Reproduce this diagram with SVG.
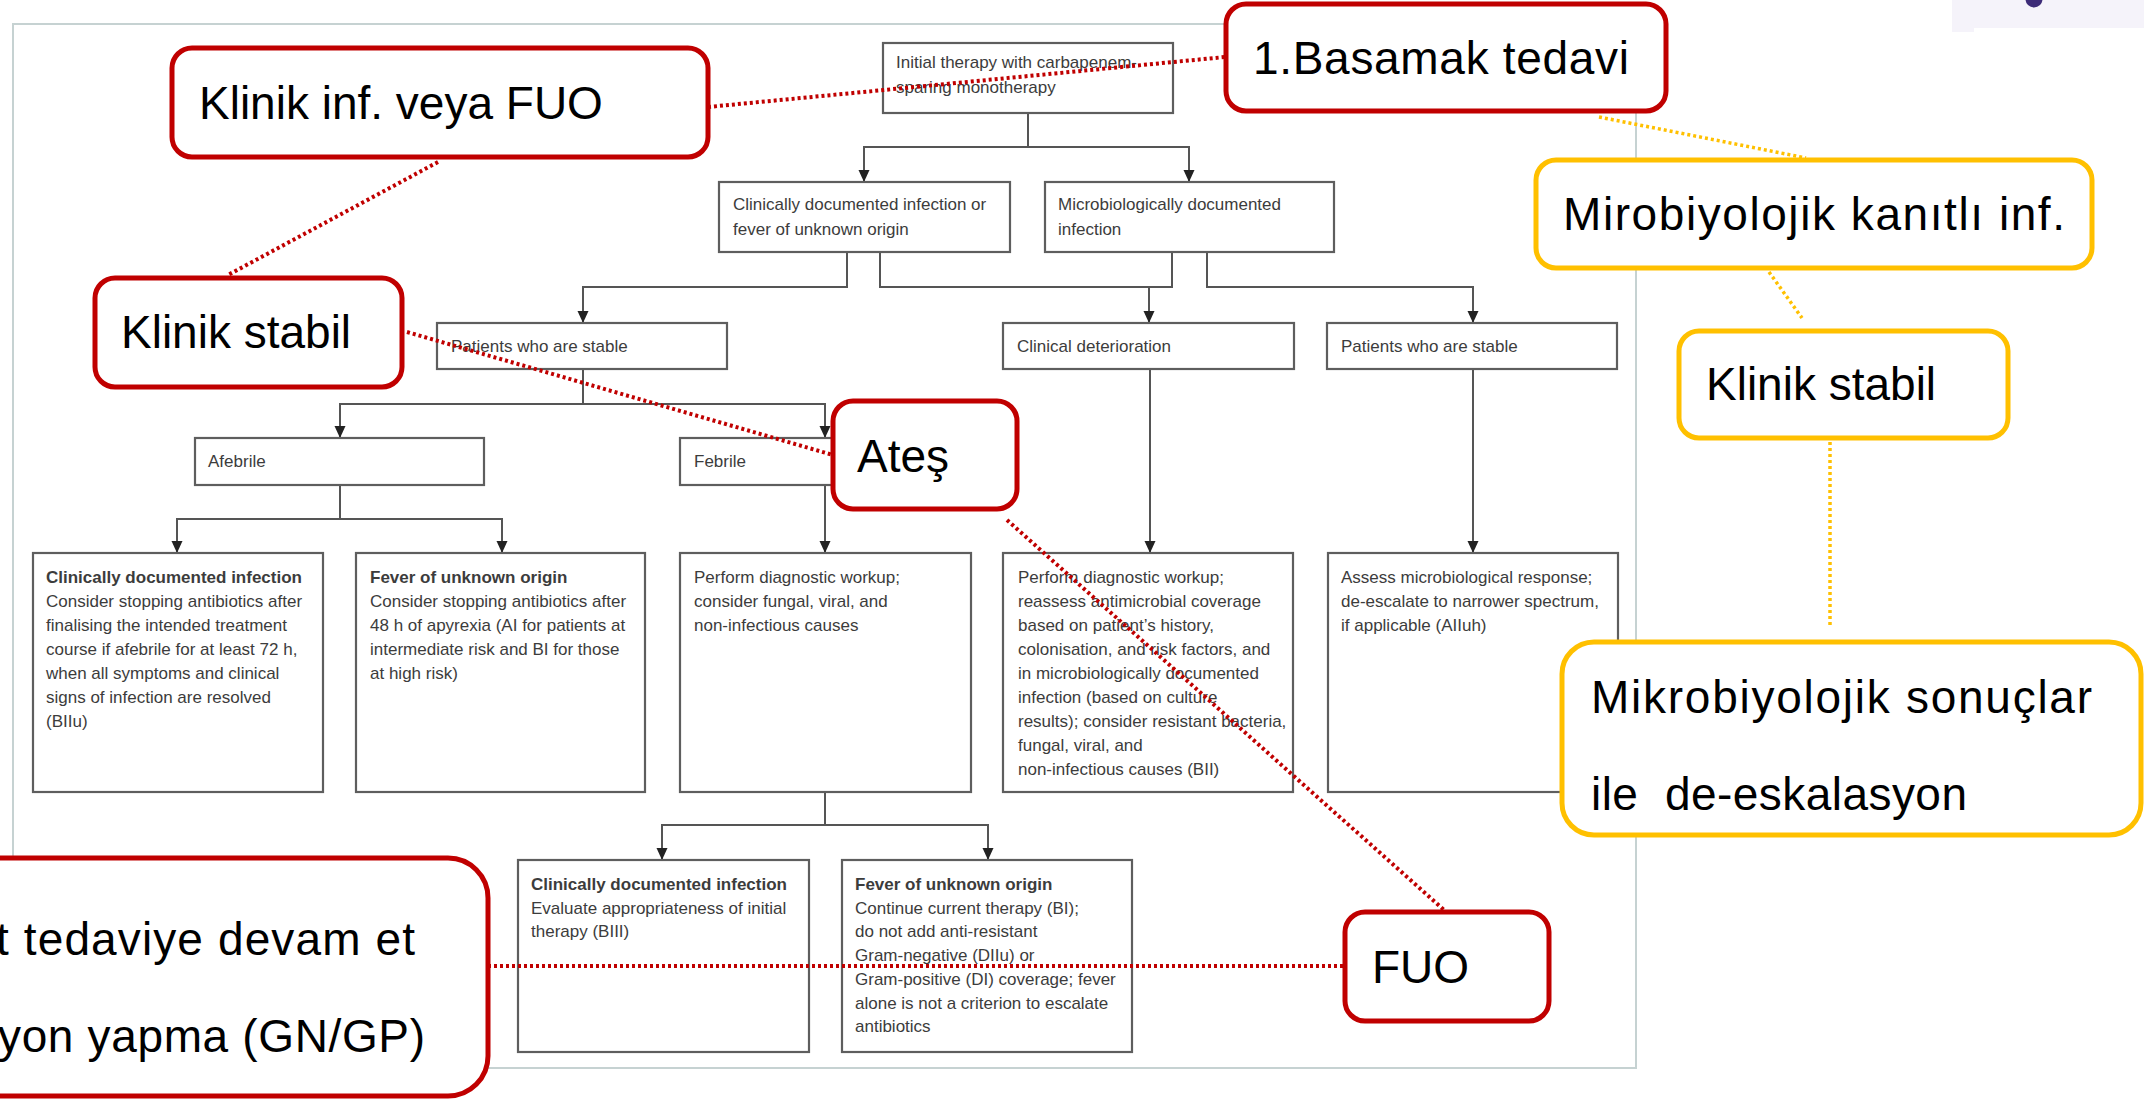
<svg xmlns="http://www.w3.org/2000/svg" width="2144" height="1099" viewBox="0 0 2144 1099">
<style>
.frame{fill:none;stroke:#c6d2d2;stroke-width:2}
.box{fill:#fff;stroke:#5e5e5e;stroke-width:2.2}
.t{font-family:"Liberation Sans",Arial,sans-serif;font-size:17px;fill:#3c3c3c}
.b{font-weight:bold}
.con{fill:none;stroke:#555;stroke-width:2}
.red{fill:#fff;stroke:#c00000;stroke-width:5}
.yel{fill:#fff;stroke:#ffc000;stroke-width:5}
.ct{font-family:"Liberation Sans",Arial,sans-serif;font-size:46px;fill:#000;white-space:pre}
.rdot{fill:none;stroke:#c00000;stroke-width:4;stroke-dasharray:3 3}
.ydot{fill:none;stroke:#ffc000;stroke-width:3.5;stroke-dasharray:3 3}
</style>
<defs>
<marker id="arr" markerUnits="userSpaceOnUse" markerWidth="12" markerHeight="12" refX="12" refY="6" orient="auto">
<path d="M0,0.5 L12,6 L0,11.5 z" fill="#222"/>
</marker>
</defs>
<rect x="0" y="0" width="2144" height="1099" fill="#fff"/>
<g id="logo">
<path d="M1952,0 H2144 V28 H1974 V32 H1952 Z" fill="#f5f3fa"/>
<circle cx="2034" cy="-1" r="8.5" fill="#3d2b78"/>
</g>
<rect class="frame" x="13" y="24" width="1623" height="1044"/>

<g id="connectors">
<path class="con" d="M1028,113 V147 H864 V182" marker-end="url(#arr)"/>
<path class="con" d="M1028,147 H1189 V182" marker-end="url(#arr)"/>
<path class="con" d="M847,252 V287 H583 V323" marker-end="url(#arr)"/>
<path class="con" d="M880,252 V287 H1149 V323" marker-end="url(#arr)"/>
<path class="con" d="M1172,252 V287 H1149"/>
<path class="con" d="M1207,252 V287 H1473 V323" marker-end="url(#arr)"/>
<path class="con" d="M583,369 V404 H340 V438" marker-end="url(#arr)"/>
<path class="con" d="M583,404 H825 V438" marker-end="url(#arr)"/>
<path class="con" d="M340,485 V519 H177 V553" marker-end="url(#arr)"/>
<path class="con" d="M340,519 H502 V553" marker-end="url(#arr)"/>
<path class="con" d="M825,485 V553" marker-end="url(#arr)"/>
<path class="con" d="M1150,369 V553" marker-end="url(#arr)"/>
<path class="con" d="M1473,369 V553" marker-end="url(#arr)"/>
<path class="con" d="M825,792 V825 H662 V860" marker-end="url(#arr)"/>
<path class="con" d="M825,825 H988 V860" marker-end="url(#arr)"/>
</g>

<g id="initial">
<rect class="box" x="883" y="43" width="290" height="70"/>
<text class="t" x="896" y="68">Initial therapy with carbapenem-</text>
<text class="t" x="896" y="93">sparing monotherapy</text>
</g>
<g id="clinically-documented">
<rect class="box" x="719" y="182" width="291" height="70"/>
<text class="t" x="733" y="210">Clinically documented infection or</text>
<text class="t" x="733" y="235">fever of unknown origin</text>
</g>
<g id="micro-documented">
<rect class="box" x="1045" y="182" width="289" height="70"/>
<text class="t" x="1058" y="210">Microbiologically documented</text>
<text class="t" x="1058" y="235">infection</text>
</g>
<g id="stable-left">
<rect class="box" x="437" y="323" width="290" height="46"/>
<text class="t" x="451" y="352">Patients who are stable</text>
</g>
<g id="deterioration">
<rect class="box" x="1003" y="323" width="291" height="46"/>
<text class="t" x="1017" y="352">Clinical deterioration</text>
</g>
<g id="stable-right">
<rect class="box" x="1327" y="323" width="290" height="46"/>
<text class="t" x="1341" y="352">Patients who are stable</text>
</g>
<g id="afebrile">
<rect class="box" x="195" y="438" width="289" height="47"/>
<text class="t" x="208" y="467">Afebrile</text>
</g>
<g id="febrile">
<rect class="box" x="680" y="438" width="290" height="47"/>
<text class="t" x="694" y="467">Febrile</text>
</g>
<g id="afebrile-cdi">
<rect class="box" x="33" y="553" width="290" height="239"/>
<text class="t b" x="46" y="583">Clinically documented infection</text>
<text class="t" x="46" y="607">Consider stopping antibiotics after</text>
<text class="t" x="46" y="631">finalising the intended treatment</text>
<text class="t" x="46" y="655">course if afebrile for at least 72 h,</text>
<text class="t" x="46" y="679">when all symptoms and clinical</text>
<text class="t" x="46" y="703">signs of infection are resolved</text>
<text class="t" x="46" y="727">(BIIu)</text>
</g>
<g id="afebrile-fuo">
<rect class="box" x="356" y="553" width="289" height="239"/>
<text class="t b" x="370" y="583">Fever of unknown origin</text>
<text class="t" x="370" y="607">Consider stopping antibiotics after</text>
<text class="t" x="370" y="631">48 h of apyrexia (AI for patients at</text>
<text class="t" x="370" y="655">intermediate risk and BI for those</text>
<text class="t" x="370" y="679">at high risk)</text>
</g>
<g id="febrile-workup">
<rect class="box" x="680" y="553" width="291" height="239"/>
<text class="t" x="694" y="583">Perform diagnostic workup;</text>
<text class="t" x="694" y="607">consider fungal, viral, and</text>
<text class="t" x="694" y="631">non-infectious causes</text>
</g>
<g id="deterioration-workup">
<rect class="box" x="1003" y="553" width="290" height="239"/>
<text class="t" x="1018" y="583">Perform diagnostic workup;</text>
<text class="t" x="1018" y="607">reassess antimicrobial coverage</text>
<text class="t" x="1018" y="631">based on patient’s history,</text>
<text class="t" x="1018" y="655">colonisation, and risk factors, and</text>
<text class="t" x="1018" y="679">in microbiologically documented</text>
<text class="t" x="1018" y="703">infection (based on culture</text>
<text class="t" x="1018" y="727">results); consider resistant bacteria,</text>
<text class="t" x="1018" y="751">fungal, viral, and</text>
<text class="t" x="1018" y="775">non-infectious causes (BII)</text>
</g>
<g id="assess-response">
<rect class="box" x="1328" y="553" width="290" height="239"/>
<text class="t" x="1341" y="583">Assess microbiological response;</text>
<text class="t" x="1341" y="607">de-escalate to narrower spectrum,</text>
<text class="t" x="1341" y="631">if applicable (AIIuh)</text>
</g>
<g id="febrile-cdi">
<rect class="box" x="518" y="860" width="291" height="192"/>
<text class="t b" x="531" y="890">Clinically documented infection</text>
<text class="t" x="531" y="914">Evaluate appropriateness of initial</text>
<text class="t" x="531" y="937">therapy (BIII)</text>
</g>
<g id="febrile-fuo">
<rect class="box" x="842" y="860" width="290" height="192"/>
<text class="t b" x="855" y="890">Fever of unknown origin</text>
<text class="t" x="855" y="914">Continue current therapy (BI);</text>
<text class="t" x="855" y="937">do not add anti-resistant</text>
<text class="t" x="855" y="961">Gram-negative (DIIu) or</text>
<text class="t" x="855" y="985">Gram-positive (DI) coverage; fever</text>
<text class="t" x="855" y="1009">alone is not a criterion to escalate</text>
<text class="t" x="855" y="1032">antibiotics</text>
</g>

<g id="callout-connectors">
<path class="rdot" d="M708,107 L1225,57"/>
<path class="rdot" d="M438,162 L228,275"/>
<path class="rdot" d="M407,332 L833,455"/>
<path class="rdot" d="M1007,520 L1444,910"/>
<path class="rdot" d="M488,966 H1345"/>
<path class="ydot" d="M1599,117 L1806,158"/>
<path class="ydot" d="M1769,272 L1802,318"/>
<path class="ydot" d="M1830,442 V627"/>
</g>

<g id="c-klinik-inf">
<rect class="red" x="172" y="48" width="536" height="109" rx="20"/>
<text class="ct" x="199" y="119">Klinik inf. veya FUO</text>
</g>
<g id="c-basamak">
<rect class="red" x="1226" y="4" width="440" height="107" rx="20"/>
<text class="ct" x="1253" y="74" textLength="376" lengthAdjust="spacing">1.Basamak tedavi</text>
</g>
<g id="c-klinik-stabil-left">
<rect class="red" x="95" y="278" width="307" height="109" rx="20"/>
<text class="ct" x="121" y="348">Klinik stabil</text>
</g>
<g id="c-ates">
<rect class="red" x="833" y="401" width="184" height="108" rx="20"/>
<text class="ct" x="857" y="472">Ateş</text>
</g>
<g id="c-fuo">
<rect class="red" x="1345" y="912" width="204" height="109" rx="20"/>
<text class="ct" x="1372" y="983">FUO</text>
</g>
<g id="c-devam">
<rect class="red" x="-40" y="858" width="528" height="238" rx="40"/>
<text class="ct" x="-4" y="955" textLength="419" lengthAdjust="spacing">t tedaviye devam et</text>
<text class="ct" x="-2" y="1052" textLength="427" lengthAdjust="spacing">yon yapma (GN/GP)</text>
</g>
<g id="c-mikro-kanit">
<rect class="yel" x="1536" y="160" width="556" height="108" rx="20"/>
<text class="ct" x="1563" y="230" textLength="502" lengthAdjust="spacing">Mirobiyolojik kanıtlı inf.</text>
</g>
<g id="c-klinik-stabil-right">
<rect class="yel" x="1679" y="331" width="329" height="107" rx="20"/>
<text class="ct" x="1706" y="400">Klinik stabil</text>
</g>
<g id="c-deeskalasyon">
<rect class="yel" x="1562" y="642" width="579" height="193" rx="32"/>
<text class="ct" x="1591" y="713" textLength="501" lengthAdjust="spacing">Mikrobiyolojik sonuçlar</text>
<text class="ct" x="1591" y="810" textLength="376" lengthAdjust="spacing">ile  de-eskalasyon</text>
</g>
</svg>
